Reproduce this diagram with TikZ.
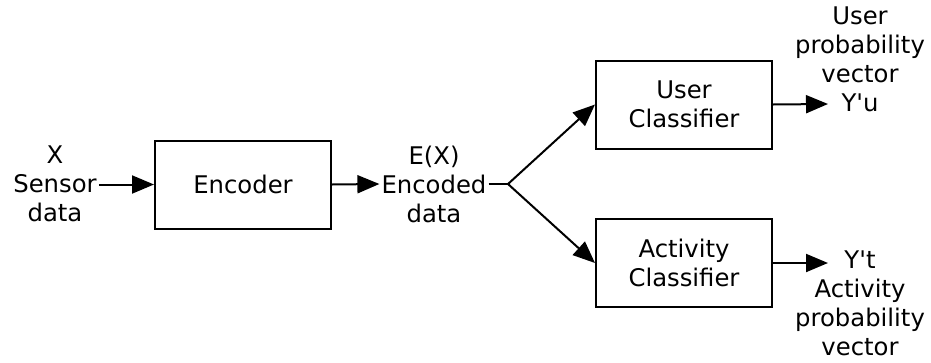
\documentclass[tikz,border=0pt]{standalone}
\usepackage{fontspec}
\setmainfont{DejaVu Sans}[Ligatures=TeXOff]
\usetikzlibrary{arrows.meta}
\begin{document}
\begin{tikzpicture}[x=1pt,y=-1pt,
  every node/.style={font=\fontsize{24.3}{29}\selectfont},
  block/.style={draw,line width=2pt,minimum width=176pt,minimum height=88pt,align=center,inner sep=0pt},
  txt/.style={align=center,inner sep=2pt},
  flow/.style={line width=2pt,-{Triangle[length=22pt,width=18pt]}},
  plain/.style={line width=2pt}]
\useasboundingbox (0,0) rectangle (931,362);
% processing blocks
\node[block] (enc) at (243,184.5) {Encoder};
\node[block] (user) at (684,104.5) {User\\Classifier};
\node[block] (act) at (684,263) {Activity\\Classifier};
% signal labels
\node[txt] (in) at (55,184) {X\\Sensor\\data};
\node[txt] (code) at (434,184) {E(X)\\Encoded\\data};
\node[txt] (uo) at (860,59) {User\\probability\\vector\\Y'u};
\node[txt] (ao) at (860,303.5) {Y't\\Activity\\probability\\vector};
% connectors
\coordinate (split) at (508,184);
\coordinate (uend) at (828,104);
\coordinate (aend) at (828,263);
\draw[flow] (in.east |- enc.west) -- (enc.west);
\draw[flow] (enc.east) -- (code.west);
\draw[plain] (code.east) -- (split);
\draw[flow] (split) -- (user.west);
\draw[flow] (split) -- (act.west);
\draw[flow] (user.east) -- (uend);
\draw[flow] (act.east) -- (aend);
\end{tikzpicture}
\end{document}
